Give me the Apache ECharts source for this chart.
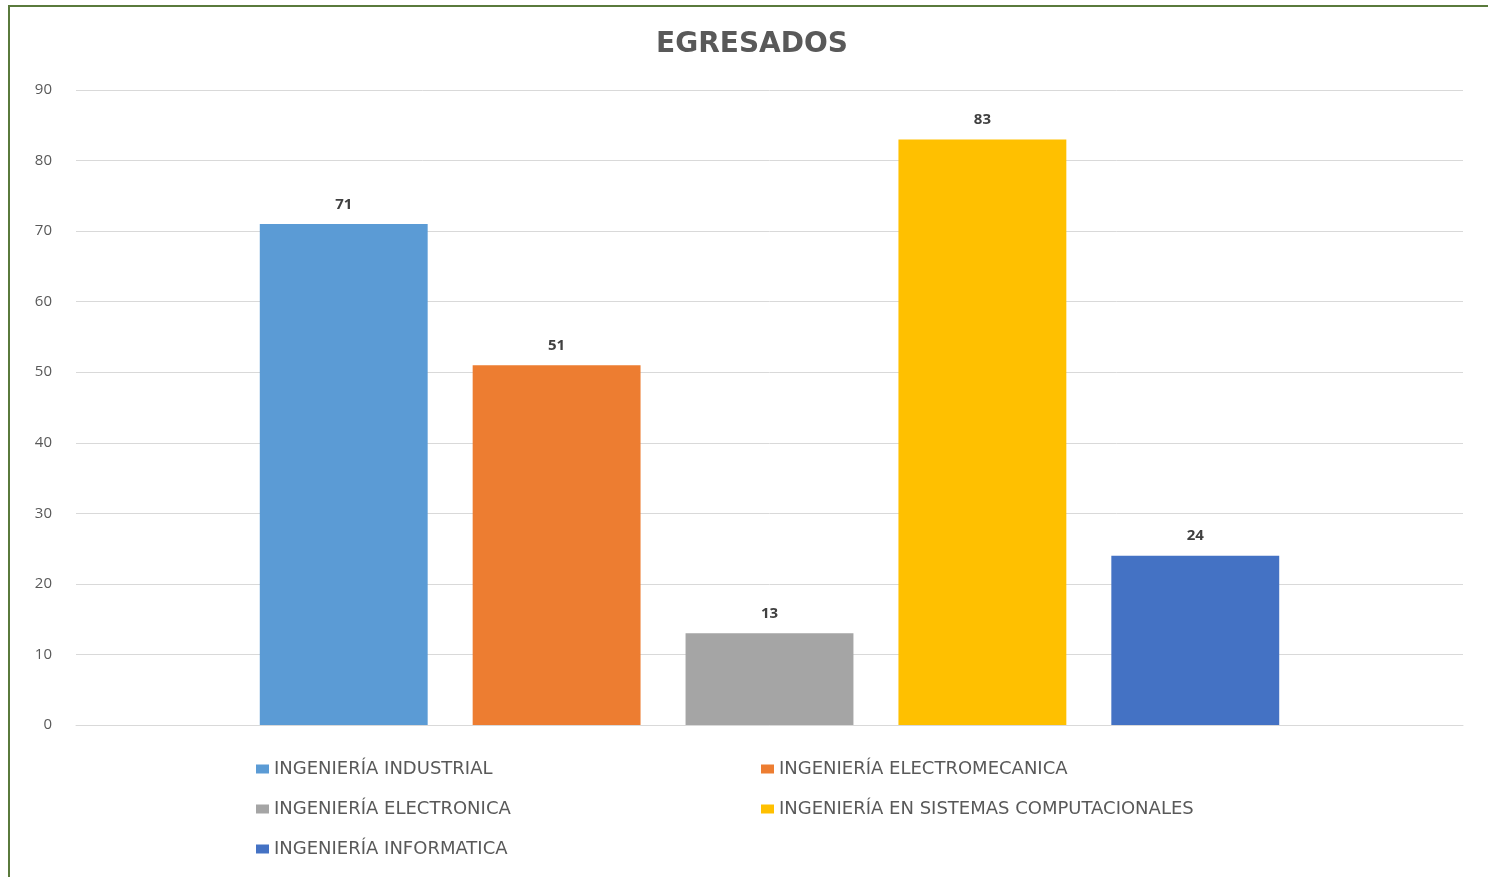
<!DOCTYPE html>
<html>
<head>
<meta charset="utf-8">
<script src="https://cdn.jsdelivr.net/npm/echarts@6/dist/echarts.min.js"></script>
<style>
  html, body { margin: 0; padding: 0; background: #fff; }
  #chart { width: 1488px; height: 877px; }
</style>
</head>
<body>
<div id="chart"></div>
<script>
// datos
const carreras = [
    "INGENIERÍA INDUSTRIAL",
    "INGENIERÍA ELECTROMECANICA",
    "INGENIERÍA ELECTRONICA",
    "INGENIERÍA EN SISTEMAS COMPUTACIONALES",
    "INGENIERÍA INFORMATICA",
]
const egresados = [71, 51, 13, 83, 24]
const colores = ["#5b9bd5", "#ed7d31", "#a5a5a5", "#ffc000", "#4472c4"]
const categoria = ["EGRESADOS"]

const myChart = echarts.init(document.getElementById("chart"))

const legendText = {
    color: "#595959",
    fontSize: 18,
    fontFamily: "DejaVu Sans",
}

myChart.setOption({
    animation: false,
    title: {
        text: "EGRESADOS",
        left: 747,
        top: 26,
        textAlign: "center",
        textStyle: {
            color: "#595959",
            fontSize: 28,
            fontWeight: "bold",
            fontFamily: "DejaVu Sans",
        },
    },
    graphic: [
        {
            type: "rect",
            shape: { x: 9, y: 6, width: 1500, height: 900 },
            style: { fill: "none", stroke: "#5a7a3c", lineWidth: 2 },
        },
    ],
    legend: [
        {
            left: 251,
            top: 755,
            orient: "vertical",
            icon: "rect",
            itemGap: 22,
            itemWidth: 13,
            itemHeight: 9,
            textStyle: legendText,
            data: [carreras[0], carreras[2], carreras[4]],
        },
        {
            left: 756,
            top: 755,
            orient: "vertical",
            icon: "rect",
            itemGap: 22,
            itemWidth: 13,
            itemHeight: 9,
            textStyle: legendText,
            data: [carreras[1], carreras[3]],
        },
    ],
    grid: {
        left: 76,
        right: 25,
        top: 90,
        bottom: 152,
    },
    xAxis: {
        type: "category",
        data: categoria,
        axisLabel: { show: false },
        axisTick: { show: false },
        axisLine: { lineStyle: { color: "#d9d9d9" } },
    },
    yAxis: {
        type: "value",
        min: 0,
        max: 90,
        interval: 10,
        axisLabel: {
            color: "#595959",
            fontSize: 15,
            fontFamily: "Open Sans",
            margin: 24,
        },
        splitLine: { lineStyle: { color: "#d9d9d9" } },
    },
    series: carreras.map((name, i) => ({
        name: name,
        type: "bar",
        barGap: "26.8%",
        barCategoryGap: "26.5%",
        data: [egresados[i]],
        itemStyle: { color: colores[i] },
        label: {
            show: true,
            position: "top",
            distance: 12,
            color: "#404040",
            fontSize: 15,
            fontWeight: "bold",
            fontFamily: "Open Sans",
        },
    })),
})
</script>
</body>
</html>
